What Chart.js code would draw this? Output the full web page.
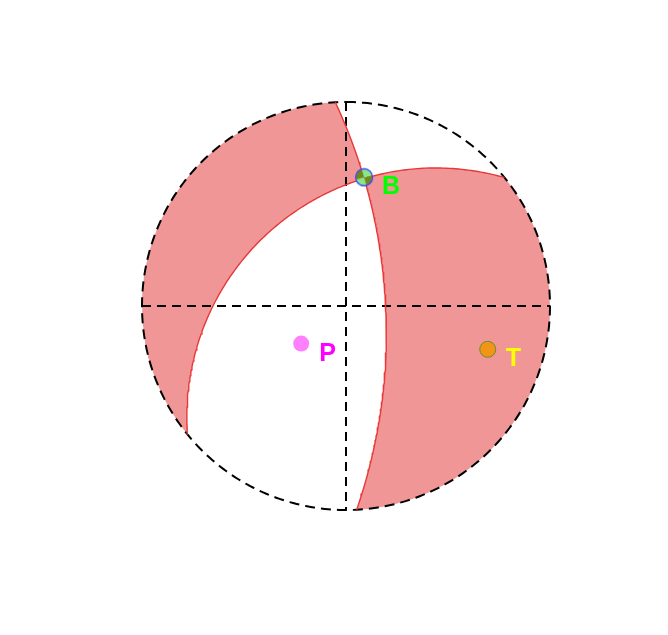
<!DOCTYPE html>
<html>
<head>
<meta charset="utf-8">
<script src="https://cdn.jsdelivr.net/npm/chart.js@4.4.1/dist/chart.umd.min.js"></script>
<style>
  html, body { margin: 0; padding: 0; background: #fff; }
  #wrap { width: 668px; height: 635px; }
</style>
</head>
<body>
<div id="wrap"><canvas id="ball" width="668" height="635"></canvas></div>
<script>
// nodal planes (strike / dip, degrees)
const planeStrikes = [357, 231];
const planeDips = [68, 35];

// principal axes (trend / plunge, degrees)
const axisNames = ['P', 'T', 'B'];
const axisTrends = [230, 107, 8];
const axisPlunges = [58, 18, 25];

const D = Math.PI / 180;

// lower hemisphere, equal-angle projection
function project(v) {
  const k = 1 / (1 + v[2]);
  return { x: v[0] * k, y: v[1] * k };
}
function cross(a, b) {
  return [a[1] * b[2] - a[2] * b[1], a[2] * b[0] - a[0] * b[2], a[0] * b[1] - a[1] * b[0]];
}
function dot(a, b) { return a[0] * b[0] + a[1] * b[1] + a[2] * b[2]; }

function planeVectors(strike, dip) {
  const s = strike * D, dd = (strike + 90) * D, d = dip * D;
  const sv = [Math.sin(s), Math.cos(s), 0];
  const dv = [Math.cos(d) * Math.sin(dd), Math.cos(d) * Math.cos(dd), Math.sin(d)];
  return { sv, dv, n: cross(sv, dv) };
}
function planePoint(p, t) {
  const c = Math.cos(t * D), s = Math.sin(t * D);
  return project([c * p.sv[0] + s * p.dv[0], c * p.sv[1] + s * p.dv[1], c * p.sv[2] + s * p.dv[2]]);
}
function planeArc(p, t0, t1) {
  const n = Math.max(2, Math.ceil(Math.abs(t1 - t0)));
  const pts = [];
  for (let i = 0; i <= n; i++) pts.push(planePoint(p, t0 + (t1 - t0) * i / n));
  return pts;
}
function horizonArc(a0, a1) {
  if (a1 <= a0) a1 += 360;
  const n = Math.ceil(a1 - a0);
  const pts = [];
  for (let i = 0; i <= n; i++) {
    const a = (a0 + (a1 - a0) * i / n) * D;
    pts.push({ x: Math.sin(a), y: Math.cos(a) });
  }
  return pts;
}
function axisPoint(trend, plunge) {
  const t = trend * D, p = plunge * D;
  return project([Math.cos(p) * Math.sin(t), Math.cos(p) * Math.cos(t), Math.sin(p)]);
}

const p1 = planeVectors(planeStrikes[0], planeDips[0]);
const p2 = planeVectors(planeStrikes[1], planeDips[1]);

// intersection of the planes (lower hemisphere)
let bv = cross(p1.n, p2.n);
if (bv[2] < 0) bv = bv.map(v => -v);
const tB1 = Math.atan2(dot(bv, p1.dv), dot(bv, p1.sv)) / D;
const tB2 = Math.atan2(dot(bv, p2.dv), dot(bv, p2.sv)) / D;

// shaded lobes
const lobeWest = [].concat(
  horizonArc(planeStrikes[1], planeStrikes[0]),
  planeArc(p1, 0, tB1),
  planeArc(p2, tB2, 0)
);
const lobeEast = [].concat(
  planeArc(p2, tB2, 180),
  horizonArc(planeStrikes[1] + 180, planeStrikes[0] + 180),
  planeArc(p1, 180, tB1)
);

const axisPts = axisNames.map((n, i) => axisPoint(axisTrends[i], axisPlunges[i]));

// B symbol: small quartered ball
function bSymbol() {
  const c = document.createElement('canvas');
  c.width = 20; c.height = 20;
  const g = c.getContext('2d');
  const sectors = [[-15, 74, '#6f8a1c'], [74, 165, '#86e886'], [165, 254, '#6f8a1c'], [254, 345, '#86e886']];
  for (const [a0, a1, col] of sectors) {
    g.beginPath();
    g.moveTo(10, 10);
    g.arc(10, 10, 8.5, a0 * D, a1 * D);
    g.closePath();
    g.fillStyle = col;
    g.fill();
  }
  g.beginPath();
  g.arc(10, 10, 8.5, 0, 2 * Math.PI);
  g.strokeStyle = '#4646ff';
  g.lineWidth = 1.3;
  g.stroke();
  return c;
}

const labelColors = { P: '#ff00ff', T: '#ffff00', B: '#00ff00' };

const axisLabels = {
  id: 'axisLabels',
  afterDatasetsDraw(chart) {
    const { ctx, scales } = chart;
    ctx.save();
    ctx.font = 'bold 25px "Liberation Sans", Arial, sans-serif';
    ctx.textBaseline = 'alphabetic';
    axisNames.forEach((n, i) => {
      const x = scales.x.getPixelForValue(axisPts[i].x);
      const y = scales.y.getPixelForValue(axisPts[i].y);
      ctx.fillStyle = labelColors[n];
      ctx.fillText(n, x + 18, y + 17);
    });
    ctx.restore();
  }
};

const lineBase = { showLine: true, pointRadius: 0, fill: false, tension: 0 };

new Chart(document.getElementById('ball'), {
  type: 'scatter',
  data: {
    datasets: [
      { ...lineBase, data: lobeWest, fill: 'shape', backgroundColor: 'rgb(240,150,150)', borderColor: 'rgba(0,0,0,0)', borderWidth: 1, order: 6 },
      { ...lineBase, data: lobeEast, fill: 'shape', backgroundColor: 'rgb(240,150,150)', borderColor: 'rgba(0,0,0,0)', borderWidth: 1, order: 6 },
      { ...lineBase, data: horizonArc(0, 360), borderColor: '#000', borderWidth: 2, borderDash: [10, 6], order: 4 },
      { ...lineBase, data: [{ x: -1, y: 0 }, { x: 1, y: 0 }], borderColor: '#000', borderWidth: 2, borderDash: [9, 6], order: 4 },
      { ...lineBase, data: [{ x: 0, y: 1 }, { x: 0, y: -1 }], borderColor: '#000', borderWidth: 2, borderDash: [9, 6], order: 4 },
      { ...lineBase, data: planeArc(p1, 0, 180), borderColor: 'rgb(232,56,56)', borderWidth: 1.4, order: 3 },
      { ...lineBase, data: planeArc(p2, 0, 180), borderColor: 'rgb(232,56,56)', borderWidth: 1.4, order: 3 },
      { data: [axisPts[0]], pointRadius: 8, backgroundColor: '#ff80ff', borderColor: '#ff80ff', borderWidth: 0, order: 1 },
      { data: [axisPts[1]], pointRadius: 8, backgroundColor: '#f29418', borderColor: '#6b8e23', borderWidth: 1, order: 1 },
      { data: [axisPts[2]], pointStyle: bSymbol(), pointRadius: 9, order: 1 },
    ],
  },
  options: {
    responsive: false,
    animation: false,
    events: [],
    layout: { padding: { left: 101.2, right: 77.2, top: 61.2, bottom: 84.2 } },
    plugins: { legend: { display: false }, tooltip: { enabled: false }, title: { display: false } },
    scales: {
      x: { type: 'linear', min: -1.2, max: 1.2, display: false },
      y: { type: 'linear', min: -1.2, max: 1.2, display: false },
    },
  },
  plugins: [axisLabels],
});
</script>
</body>
</html>
